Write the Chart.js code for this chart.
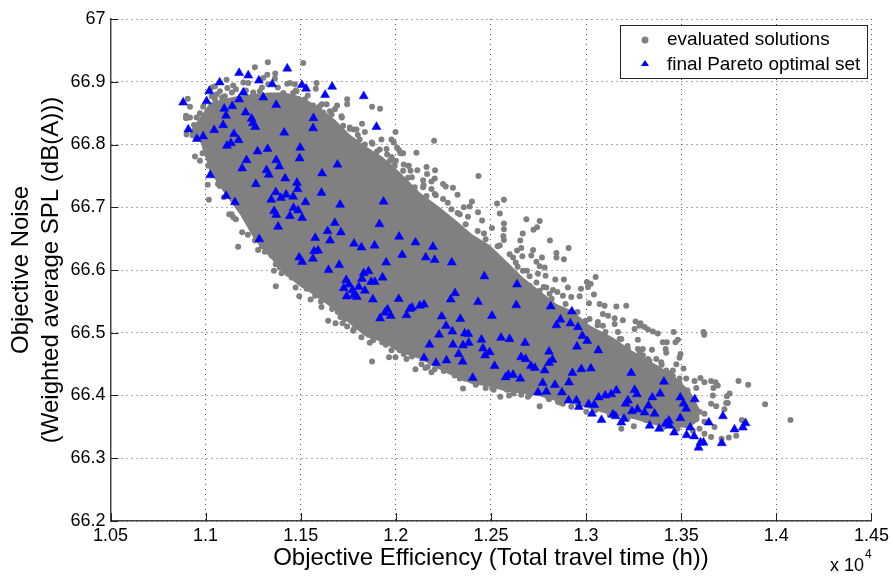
<!DOCTYPE html>
<html>
<head>
<meta charset="utf-8">
<title>Objective Noise vs Objective Efficiency</title>
<script src="https://cdn.jsdelivr.net/npm/chart.js@4/dist/chart.umd.min.js"></script>
<style>
  html, body { margin: 0; padding: 0; background: #fff; }
  #wrap { width: 893px; height: 579px; }
</style>
</head>
<body>
<div id="wrap"><canvas id="chart" width="893" height="579"></canvas></div>
<script>
const xTicks = [10500, 11000, 11500, 12000, 12500, 13000, 13500, 14000, 14500];
const yTicks = [66.2, 66.3, 66.4, 66.5, 66.6, 66.7, 66.8, 66.9, 67];

// Edges of the solid part of the grey cloud
const bandX = [10917,10970,11023,11101,11180,11259,11338,11417,11495,11585,11679,11758,11847,11931,12020,12125,12231,12320,12404,12493,12582,12666,12756,12845,12929,13018,13139,13244,13370,13454,13544,13596];
const bandTop = [66.821,66.843,66.867,66.873,66.878,66.881,66.883,66.883,66.877,66.862,66.840,66.816,66.796,66.780,66.756,66.724,66.700,66.678,66.656,66.640,66.614,66.589,66.567,66.546,66.535,66.512,66.493,66.471,66.449,66.433,66.408,66.379];
const bandBottom = [66.811,66.806,66.756,66.721,66.689,66.647,66.620,66.593,66.574,66.557,66.536,66.514,66.493,66.485,66.469,66.458,66.441,66.428,66.418,66.414,66.406,66.403,66.399,66.391,66.387,66.379,66.368,66.363,66.352,66.348,66.350,66.360];

// Separate grey dots around the solid part
const cloudX = [11327,11259,11513,11324,11366,11364,11303,11224,11198,11110,11145,11049,11032,11159,11114,11075,11058,11101,11049,11032,10906,10918,10987,11058,10970,10897,10918,10953,10897,10939,10970,10900,10944,10970,10984,11014,11011,11017,11075,11124,11145,11443,11429,11469,11583,11579,11478,11408,11460,11329,11250,11285,11522,11565,11600,11636,11679,11691,11744,11744,11875,11917,11714,11618,11662,11531,11591,11653,11723,11758,11793,11822,11779,11688,11705,11688,11714,11741,11837,11810,11998,11924,11977,11758,11810,11837,11877,11951,12006,12024,11801,11854,11901,11954,11898,11863,11968,11933,11994,12064,12038,11985,12064,
11989,12201,12017,12038,12108,11985,12000,11985,12068,12077,12113,12161,12206,12164,12434,12143,12187,12204,12248,12262,12099,12143,12187,12300,12324,12161,12204,12248,12400,12568,12532,12388,12357,12432,12546,12292,12336,12379,12453,12686,12756,12505,12568,12568,12742,12723,12667,12463,12565,12568,12654,12810,12546,12659,12721,12908,12844,12637,12712,12768,12844,12883,12616,12665,12739,12756,12782,12668,12689,12630,12747,12787,12838,12883,13004,13024,13050,12973,12904,13041,12826,12849,13010,12878,12922,12966,12739,12791,12703,12756,12808,
13015,13071,13097,13159,13211,13018,13088,13115,13150,13193,13062,13150,13088,13260,13286,13281,13307,13325,13351,13377,13460,13617,13621,13482,13470,13403,13424,13272,13255,13167,13185,13418,13421,13220,13272,13298,13346,13220,13298,13325,13369,13395,13496,13491,13474,13512,13456,13421,13456,13491,13526,13570,13601,13622,13657,13680,13692,13669,13801,13852,13579,13754,13740,13666,13941,14074,13657,13684,13736,13745,13727,13622,13596,13579,13622,13675,13818,13596,13622,13657,13789,13750,13712,13251,13185,13526,13561,13491,13439,13491,13456,13561,13526,
11137,11192,11171,11259,11299,11276,11311,11347,11368,11390,11359,11399,11434,11452,11486,11369,11473,11531,11492,11552,11576,11606,11609,11644,11665,11644,11683,11720,11709,11744,11732,11775,11819,11880,11928,11977,11964,11998,12056,11875,12020,
12103,12155,12135,12187,12204,12266,12309,12353,12362,12472,12507,12549,12595,12584,12659,12694,12756,12805,12852,12878,12922,13001,
11086,11138,11212,11296,11380,11474,11537,11611,11653,11716,11758,11800,11873,11915,11978,12041,12084,12146,12210,12273,12325,12367,12430,12472,12535,12598,12640,12703,12777,12819,12892,12955,12997,13060,13102,13176,13218,13281,13333,13397,13438,13491,13533,13565,
11001,11033,11065,11096,11159,11222,11296,11380,11432,11516,11600,11695,11779,11863,11947,12041,12084,12168,12252,12336,12420,12514,12619,12703,12798,12861,12955,13050,13123,13218,13313,13407,13480];
const cloudY = [66.931,66.923,66.930,66.911,66.913,66.905,66.906,66.898,66.899,66.903,66.894,66.893,66.891,66.888,66.890,66.885,66.880,66.877,66.872,66.877,66.873,66.860,66.860,66.861,66.850,66.846,66.843,66.843,66.842,66.831,66.834,66.816,66.781,66.774,66.786,66.766,66.736,66.712,66.734,66.689,66.684,66.898,66.897,66.896,66.898,66.889,66.885,66.882,66.882,66.896,66.883,66.885,66.872,66.862,66.861,66.864,66.856,66.862,66.872,66.864,66.860,66.857,66.845,66.851,66.848,66.851,66.837,66.832,66.830,66.825,66.824,66.833,66.824,66.819,66.815,66.806,66.808,66.800,66.820,66.808,66.820,66.808,66.808,66.800,66.792,66.800,66.801,66.793,66.795,66.786,66.787,66.789,66.789,66.784,66.780,66.776,66.774,66.769,66.766,66.766,66.758,66.751,66.747,
66.803,66.806,66.791,66.786,66.787,66.774,66.774,66.764,66.766,66.758,66.759,66.764,66.759,66.753,66.750,66.743,66.741,66.746,66.737,66.733,66.732,66.732,66.729,66.731,66.720,66.718,66.721,66.713,66.709,66.712,66.706,66.701,66.700,66.692,66.690,66.697,66.689,66.685,66.679,66.681,66.678,66.667,66.674,66.665,66.668,66.664,66.658,66.658,66.654,66.648,66.647,66.647,66.639,66.635,66.632,66.635,66.627,66.631,66.623,66.620,66.620,66.617,66.620,66.622,66.613,66.606,66.604,66.599,66.599,66.612,66.594,66.591,66.585,66.585,66.581,66.578,66.589,66.570,66.572,66.561,66.568,66.565,66.573,66.559,66.557,66.558,66.580,66.572,66.575,66.567,66.562,
66.547,66.546,66.543,66.542,66.543,66.522,66.530,66.527,66.523,66.520,66.517,66.514,66.511,66.518,66.515,66.511,66.509,66.505,66.502,66.499,66.501,66.501,66.497,66.489,66.485,66.485,66.485,66.489,66.506,66.501,66.490,66.474,66.468,66.474,66.474,66.474,66.473,66.461,66.464,66.458,66.458,66.453,66.466,66.460,66.450,66.443,66.440,66.440,66.431,66.427,66.427,66.423,66.428,66.421,66.423,66.421,66.416,66.412,66.423,66.417,66.412,66.403,66.399,66.400,66.386,66.361,66.387,66.383,66.388,66.388,66.378,66.371,66.374,66.363,66.358,66.350,66.361,66.347,66.339,66.334,66.336,66.333,66.331,66.351,66.347,66.353,66.344,66.355,66.374,66.374,66.384,66.374,66.368,
66.689,66.660,66.637,66.647,66.639,66.632,66.629,66.623,66.609,66.604,66.599,66.595,66.596,66.588,66.585,66.574,66.572,66.570,66.558,66.553,66.559,66.550,66.541,66.553,66.538,66.519,66.515,66.515,66.525,66.510,66.522,66.503,66.493,66.488,66.485,66.472,66.461,66.461,66.458,66.454,66.472,
66.442,66.444,66.450,66.437,66.442,66.442,66.432,66.411,66.427,66.412,66.411,66.398,66.400,66.409,66.401,66.398,66.383,66.394,66.390,66.387,66.382,66.374,
66.875,66.883,66.886,66.891,66.891,66.886,66.878,66.864,66.853,66.843,66.827,66.815,66.803,66.792,66.780,66.768,66.748,66.735,66.719,66.707,66.691,66.673,66.662,66.649,66.638,66.625,66.605,66.590,66.573,66.554,66.546,66.533,66.519,66.512,66.501,66.490,66.479,66.468,66.455,66.449,66.435,66.420,66.408,66.390,
66.792,66.757,66.737,66.716,66.681,66.656,66.638,66.613,66.594,66.576,66.559,66.533,66.506,66.484,66.481,66.466,66.462,66.446,66.439,66.427,66.417,66.409,66.403,66.401,66.398,66.389,66.387,66.377,66.369,66.363,66.361,66.350,66.347];

const paretoX = [11176,11224,11429,11280,11074,11350,11506,11528,11665,11019,11198,11628,11831,11303,11176,11005,10882,11371,11140,11098,11210,11107,11567,11242,11248,11092,11261,11898,11565,10909,11045,11413,11149,10987,10954,11173,11133,11112,11497,11326,11273,11494,11215,11371,11387,11693,11192,11320,11332,11612,11024,11418,11480,11264,11483,11369,11609,11423,11108,11396,11460,11345,11154,11525,11935,11707,11462,11486,11360,11371,11443,11507,11679,11914,11381,
11641,11711,11576,12017,11282,11654,11780,11819,11888,11591,11570,12033,11492,11564,11507,11949,11702,11646,11856,11831,11930,11822,11739,11870,11889,11805,11753,11726,11837,11772,11741,11779,11795,11879,12015,11956,12073,11942,11973,11917,12056,
12103,12195,12157,12204,12294,12465,12637,12311,12288,12432,12633,12814,12148,12126,12085,12241,12339,12505,12865,12844,12264,12297,12362,12381,12227,12553,12598,12450,12679,12177,12300,12353,12383,12458,12493,12805,12469,12330,12658,12682,12823,12148,12266,12211,12351,12805,12519,12710,12730,12782,12591,12616,12577,12654,12404,12772,12836,12747,12791,
12925,12917,12957,12980,13006,12952,13064,12975,13025,12928,13237,12910,13409,13255,12873,13159,13267,13132,13101,13066,13389,13348,13495,13571,12908,12949,13220,13208,13013,13043,13512,12962,13328,13526,13270,13241,13307,13360,13031,13141,13155,13495,13199,13081,13719,13645,13185,13435,13418,13838,13439,13334,13547,13384,13824,13780,13463,13528,13568,13617,13601,13713,13591];
const paretoY = [66.914,66.910,66.921,66.902,66.899,66.896,66.895,66.889,66.892,66.885,66.883,66.879,66.877,66.875,66.872,66.869,66.867,66.863,66.861,66.857,66.851,66.846,66.842,66.841,66.834,66.831,66.828,66.828,66.826,66.824,66.823,66.819,66.817,66.813,66.809,66.807,66.802,66.798,66.795,66.793,66.789,66.778,66.775,66.775,66.765,66.768,66.762,66.759,66.752,66.754,66.751,66.746,66.739,66.737,66.729,66.724,66.723,66.720,66.718,66.715,66.717,66.712,66.708,66.708,66.709,66.704,66.699,66.695,66.694,66.688,66.686,66.683,66.675,66.673,66.669,
66.662,66.660,66.651,66.653,66.649,66.647,66.642,66.636,66.639,66.631,66.630,66.624,66.620,66.618,66.613,66.612,66.608,66.600,66.598,66.595,66.588,66.586,66.584,66.581,66.581,66.573,66.577,66.571,66.567,66.568,66.558,66.560,66.557,66.553,66.554,66.537,66.538,66.532,66.527,66.523,66.528,
66.644,66.637,66.620,66.616,66.612,66.590,66.577,66.563,66.553,66.549,66.544,66.542,66.545,66.543,66.540,66.526,66.522,66.527,66.521,66.512,66.511,66.502,66.499,66.498,66.497,66.492,66.490,66.489,66.484,66.481,66.481,66.480,66.484,66.475,66.469,66.470,66.464,66.466,66.461,66.458,66.457,66.460,66.456,66.452,66.454,66.452,66.447,66.447,66.444,66.440,66.433,66.433,66.429,66.427,66.428,66.420,66.417,66.405,66.406,
66.534,66.515,66.509,66.495,66.487,66.478,66.472,66.442,66.443,66.436,66.436,66.421,66.422,66.409,66.405,66.408,66.402,66.402,66.400,66.397,66.403,66.397,66.397,66.394,66.392,66.392,66.392,66.387,66.386,66.385,66.387,66.382,66.384,66.379,66.378,66.375,66.373,66.371,66.371,66.370,66.367,66.364,66.363,66.361,66.367,66.357,66.357,66.360,66.355,66.356,66.352,66.352,66.349,66.347,66.349,66.346,66.341,66.337,66.335,66.325,66.325,66.324,66.317];

const legendLabels = ['evaluated solutions', 'final Pareto optimal set'];
const xTitle = 'Objective Efficiency (Total travel time (h))';
const yTitle = ['Objective Noise', '(Weighted average SPL (dB(A)))'];

const GREY = '#808080';
const BLUE = '#0000ff';
const FONT = '"Liberation Sans", Arial, sans-serif';

function zip(xs, ys) {
  return xs.map((x, i) => ({ x, y: ys[i] }));
}

// Ticks pointing into the plot, legend box and the x 10^4 multiplier
const extras = {
  id: 'extras',
  afterDatasetsDraw(chart) {
    const { ctx, chartArea: a, scales } = chart;
    ctx.save();
    ctx.strokeStyle = '#222';
    ctx.lineWidth = 1;
    ctx.beginPath();
    xTicks.forEach(v => {
      const px = Math.round(scales.x.getPixelForValue(v)) + 0.5;
      ctx.moveTo(px, a.bottom);
      ctx.lineTo(px, a.bottom - 8);
    });
    yTicks.forEach(v => {
      const py = Math.round(scales.y.getPixelForValue(v)) + 0.5;
      ctx.moveTo(a.left, py);
      ctx.lineTo(a.left + 8, py);
    });
    ctx.stroke();

    ctx.fillStyle = '#fff';
    ctx.fillRect(621, 26, 246, 53);
    ctx.strokeStyle = '#222';
    ctx.strokeRect(620.5, 25.5, 247, 53);

    ctx.fillStyle = GREY;
    ctx.beginPath();
    ctx.arc(645, 40, 3.5, 0, Math.PI * 2);
    ctx.fill();
    ctx.fillStyle = BLUE;
    ctx.beginPath();
    ctx.moveTo(645, 60);
    ctx.lineTo(649, 66);
    ctx.lineTo(641, 66);
    ctx.closePath();
    ctx.fill();

    ctx.fillStyle = '#000';
    ctx.font = '19px ' + FONT;
    ctx.textAlign = 'left';
    ctx.textBaseline = 'middle';
    ctx.fillText(legendLabels[0], 667, 40);
    ctx.fillText(legendLabels[1], 667, 65);

    ctx.font = '18px ' + FONT;
    ctx.fillText('x 10', 830, 566);
    ctx.font = '12px ' + FONT;
    ctx.fillText('4', 865, 555);
    ctx.restore();
  }
};

new Chart(document.getElementById('chart'), {
  type: 'scatter',
  data: {
    datasets: [
      { label: 'cloud top', data: zip(bandX, bandTop), showLine: true, pointRadius: 0, borderWidth: 0,
        backgroundColor: GREY, fill: '+1', order: 3 },
      { label: 'cloud bottom', data: zip(bandX, bandBottom), showLine: true, pointRadius: 0, borderWidth: 0, order: 3 },
      { label: legendLabels[0], data: zip(cloudX, cloudY), pointRadius: 3, backgroundColor: GREY, borderWidth: 0, order: 2 },
      { label: legendLabels[1], data: zip(paretoX, paretoY), pointStyle: 'triangle', pointRadius: 5.2,
        backgroundColor: BLUE, borderColor: BLUE, borderWidth: 0.5, order: 1 }
    ]
  },
  plugins: [extras],
  options: {
    responsive: false,
    animation: false,
    layout: { padding: { top: 19, right: 21, left: 0, bottom: 0 } },
    plugins: { legend: { display: false }, tooltip: { enabled: false } },
    scales: {
      x: {
        type: 'linear',
        min: 10500,
        max: 14500,
        afterBuildTicks: s => { s.ticks = xTicks.map(value => ({ value })); },
        afterFit: s => { s.height = 58; },
        ticks: {
          autoSkip: false, maxRotation: 0, padding: 4, color: '#000',
          font: { family: FONT, size: 18 },
          callback: v => String(v / 10000)
        },
        grid: { color: '#555', tickLength: 0, lineWidth: 1 },
        border: { color: '#444', width: 1.5, dash: [1, 4], display: true },
        title: { display: true, text: xTitle, color: '#000', font: { family: FONT, size: 24, lineHeight: 1.25 }, padding: { top: 0, bottom: 6 } }
      },
      y: {
        type: 'linear',
        min: 66.2,
        max: 67,
        afterBuildTicks: s => { s.ticks = yTicks.map(value => ({ value })); },
        afterFit: s => { s.width = 110.5; },
        ticks: {
          autoSkip: false, padding: 5, color: '#000',
          font: { family: FONT, size: 18 },
          callback: v => String(Number(v.toFixed(1)))
        },
        grid: { color: '#555', tickLength: 0, lineWidth: 1 },
        border: { color: '#444', width: 1.5, dash: [1, 4], display: true },
        title: { display: true, text: yTitle, color: '#000', font: { family: FONT, size: 24, lineHeight: 1.25 }, padding: { top: 6, bottom: 0 } }
      }
    }
  }
});
</script>
</body>
</html>
